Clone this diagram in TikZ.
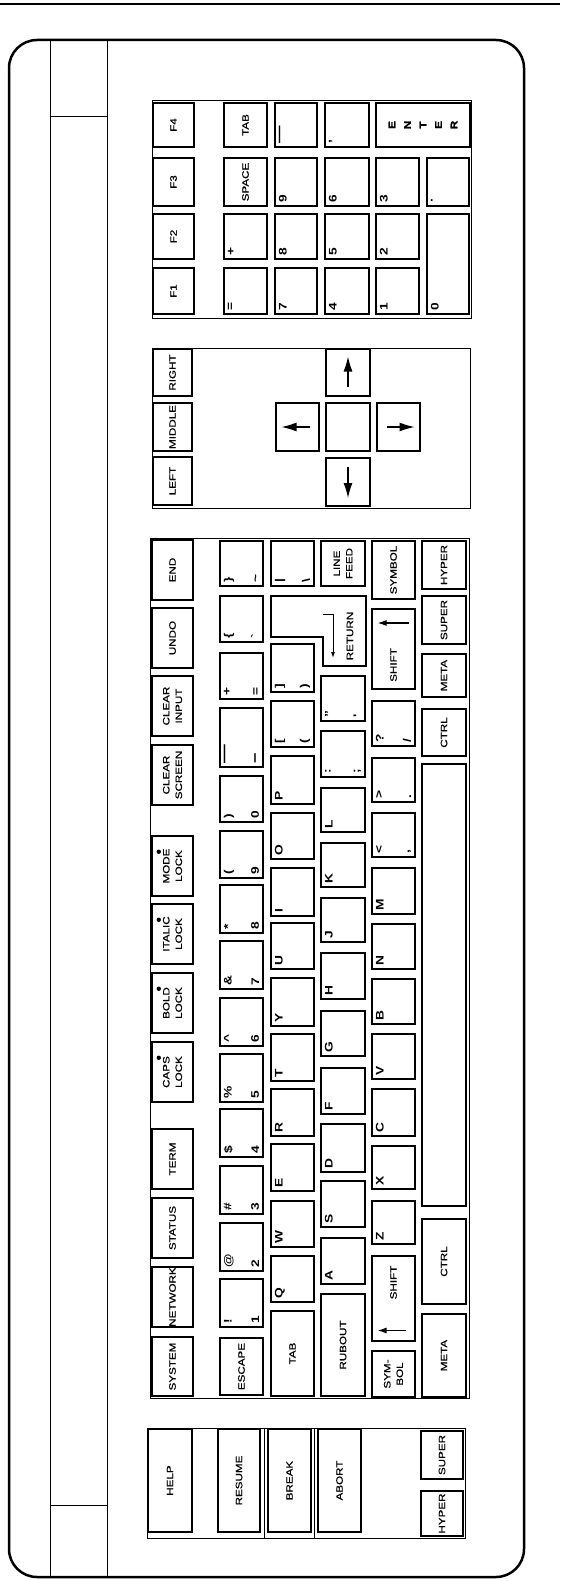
\documentclass[tikz,border=0pt]{standalone}
\usepackage{fontspec}
\newfontfamily\keyfont{Liberation Sans}[FakeStretch=1.25]
\newfontfamily\namefont{Liberation Sans}[FakeStretch=1.25, FakeBold=0.6]
\usetikzlibrary{arrows.meta}

\tikzset{
  key/.style={draw, line width=2.5pt, rotate=90, inner sep=0pt, align=center,
    font=\namefont\fontsize{9.3}{12.5}\selectfont},
  lgd/.style={rotate=90, inner sep=5pt,
    font=\keyfont\bfseries\fontsize{11}{11}\selectfont},
  keytext/.style={rotate=90, inner sep=0pt, align=center,
    font=\namefont\fontsize{9.3}{12.5}\selectfont},
  block/.style={draw, line width=0.9pt},
  outerframe/.style={draw, line width=2.5pt},
  rule/.style={draw, line width=0.9pt},
  bigarrow/.style={line width=1.2pt, -{Latex[length=15pt,width=9pt]}},
  smallarrow/.style={line width=1.3pt, -{Latex[length=9pt,width=6pt]}}
}

% key from (x1,y1) to (x2,y2), picture pixels
\newcommand{\keycap}[6]{%
  \node[key, minimum width={(#5-#3-2)*1pt}, minimum height={(#4-#2-2)*1pt}]
    (#1) at ({(#2+#4)/2},{(#3+#5)/2}) {#6};}
% legends in the upper / lower left corner of a key
\newcommand{\upleg}[2]{\node[lgd, anchor=north west] at (#1.north west) {#2};}
\newcommand{\loleg}[2]{\node[lgd, anchor=south west] at (#1.south west) {#2};}

\begin{document}
\begin{tikzpicture}[x=1pt, y=-1pt]
\useasboundingbox (0,0) rectangle (560,1581);

% case
\draw[line width=1.5pt] (0,4) -- (560,4);
\draw[outerframe, rounded corners=28pt] (9,40) rectangle (524,1577);
\draw[rule] (50,40) -- (50,1577);
\draw[rule] (107,40) -- (107,1577);
\draw[rule] (50,116) -- (107,116);
\draw[rule] (50,1505) -- (107,1505);

% keypad
\draw[block] (152,100) rectangle (471,318);
\keycap{ffour}{152}{102}{195}{148}{F4}
\keycap{fthree}{152}{157}{195}{207}{F3}
\keycap{ftwo}{152}{213}{195}{260}{F2}
\keycap{fone}{152}{267}{195}{315}{F1}
\keycap{padtab}{223}{102}{268}{148}{TAB}
\keycap{padspace}{223}{157}{268}{207}{SPACE}
\keycap{padplus}{223}{213}{268}{260}{}
\keycap{padeq}{223}{267}{268}{315}{}
\keycap{padminus}{274}{102}{318}{148}{}
\keycap{padnine}{274}{157}{318}{207}{}
\keycap{padeight}{274}{213}{318}{260}{}
\keycap{padseven}{274}{267}{318}{315}{}
\keycap{padcomma}{324}{102}{370}{148}{}
\keycap{padsix}{324}{157}{370}{207}{}
\keycap{padfive}{324}{213}{370}{260}{}
\keycap{padfour}{324}{267}{370}{315}{}
\keycap{enter}{375}{102}{471}{148}{}
\keycap{padthree}{375}{157}{420}{207}{}
\keycap{padtwo}{375}{213}{420}{260}{}
\keycap{padone}{375}{267}{420}{315}{}
\keycap{paddot}{426}{157}{470}{207}{}
\keycap{padzero}{426}{213}{470}{315}{}
\node[keytext, font=\namefont\bfseries\fontsize{9.5}{15.5}\selectfont] (entertext) at (enter) {E\\N\\T\\E\\R};
\upleg{padplus}{+}
\upleg{padeq}{=}
\upleg{padminus}{\fontsize{14}{14}\selectfont\textemdash}
\upleg{padnine}{9}
\upleg{padeight}{8}
\upleg{padseven}{7}
\upleg{padcomma}{,}
\upleg{padsix}{6}
\upleg{padfive}{5}
\upleg{padfour}{4}
\upleg{padthree}{3}
\upleg{padtwo}{2}
\upleg{padone}{1}
\upleg{paddot}{.}
\upleg{padzero}{0}

% mouse buttons and cursor keys
\draw[block] (152,348) rectangle (470,508);
\keycap{rightbtn}{152}{348}{193}{397}{RIGHT}
\keycap{middlebtn}{152}{402}{193}{452}{MIDDLE}
\keycap{leftbtn}{152}{456}{193}{506}{LEFT}
\keycap{curup}{325}{348}{371}{397}{}
\keycap{curleft}{275}{402}{320}{452}{}
\keycap{curmid}{325}{402}{371}{452}{}
\keycap{curright}{376}{402}{421}{452}{}
\keycap{curdown}{325}{457}{371}{507}{}
\draw[bigarrow] ([yshift=-14pt]curup.center) -- ([yshift=16pt]curup.center);
\draw[bigarrow] ([xshift=12pt]curleft.center) -- ([xshift=-16pt]curleft.center);
\draw[bigarrow] ([xshift=-12pt]curright.center) -- ([xshift=16pt]curright.center);
\draw[bigarrow] ([yshift=15pt]curdown.center) -- ([yshift=-16pt]curdown.center);

% main keys
\draw[block] (150,538) rectangle (469,1398);
% function row
\keycap{system}{151}{1336}{194}{1397}{SYSTEM}
\keycap{network}{151}{1266}{194}{1328}{NETWORK}
\keycap{status}{151}{1197}{194}{1259}{STATUS}
\keycap{term}{151}{1128}{194}{1190}{TERM}
\keycap{capslock}{151}{1041}{194}{1103}{CAPS\\LOCK}
\keycap{boldlock}{151}{972}{194}{1034}{BOLD\\LOCK}
\keycap{italiclock}{151}{903}{194}{965}{ITALIC\\LOCK}
\keycap{modelock}{151}{835}{194}{897}{MODE\\LOCK}
\keycap{clearscreen}{151}{744}{194}{806}{CLEAR\\SCREEN}
\keycap{clearinput}{151}{675}{194}{737}{CLEAR\\INPUT}
\keycap{undo}{151}{607}{194}{669}{UNDO}
\keycap{endkey}{151}{539}{194}{601}{END}
\fill ([xshift=8pt,yshift=-17pt]capslock.north east) circle (2.2pt);
\fill ([xshift=8pt,yshift=-17pt]boldlock.north east) circle (2.2pt);
\fill ([xshift=8pt,yshift=-17pt]italiclock.north east) circle (2.2pt);
\fill ([xshift=8pt,yshift=-17pt]modelock.north east) circle (2.2pt);

% digit row
\keycap{escape}{219}{1337}{264}{1396}{ESCAPE}
\keycap{keyone}{219}{1278}{264}{1328}{}
\keycap{keytwo}{219}{1222}{264}{1272}{}
\keycap{keythree}{219}{1165}{264}{1215}{}
\keycap{keyfour}{219}{1108}{264}{1158}{}
\keycap{keyfive}{219}{1053}{264}{1103}{}
\keycap{keysix}{219}{997}{264}{1047}{}
\keycap{keyseven}{219}{940}{264}{990}{}
\keycap{keyeight}{219}{884}{264}{934}{}
\keycap{keynine}{219}{830}{264}{879}{}
\keycap{keyzero}{219}{775}{264}{823}{}
\keycap{keyminus}{219}{707}{264}{768}{}
\keycap{keyequal}{219}{652}{264}{700}{}
\keycap{keygrave}{219}{595}{264}{643}{}
\keycap{keytilde}{219}{540}{264}{587}{}
\upleg{keyone}{!} \loleg{keyone}{1}
\upleg{keytwo}{@} \loleg{keytwo}{2}
\upleg{keythree}{\#} \loleg{keythree}{3}
\upleg{keyfour}{\$} \loleg{keyfour}{4}
\upleg{keyfive}{\%} \loleg{keyfive}{5}
\upleg{keysix}{\textasciicircum} \loleg{keysix}{6}
\upleg{keyseven}{\&} \loleg{keyseven}{7}
\upleg{keyeight}{*} \loleg{keyeight}{8}
\upleg{keynine}{(} \loleg{keynine}{9}
\upleg{keyzero}{)} \loleg{keyzero}{0}
\upleg{keyminus}{\fontsize{15}{15}\selectfont\textemdash} \loleg{keyminus}{\fontsize{15}{15}\selectfont\textendash}
\upleg{keyequal}{+} \loleg{keyequal}{=}
\upleg{keygrave}{\{} \loleg{keygrave}{\textasciigrave}
\upleg{keytilde}{\}} \loleg{keytilde}{\textasciitilde}

% Q row
\keycap{tab}{270}{1310}{315}{1397}{TAB}
\keycap{keyq}{270}{1255}{315}{1303}{}
\keycap{keyw}{270}{1200}{315}{1248}{}
\keycap{keye}{270}{1143}{315}{1192}{}
\keycap{keyr}{270}{1088}{315}{1137}{}
\keycap{keyt}{270}{1033}{315}{1082}{}
\keycap{keyy}{270}{977}{315}{1027}{}
\keycap{keyu}{270}{922}{315}{970}{}
\keycap{keyi}{270}{867}{315}{917}{}
\keycap{keyo}{270}{812}{315}{860}{}
\keycap{keyp}{270}{755}{315}{805}{}
\keycap{lbrack}{270}{700}{315}{748}{}
\keycap{rbrack}{270}{643}{315}{693}{}
\keycap{bslash}{270}{540}{315}{587}{}
\upleg{keyq}{Q} \upleg{keyw}{W} \upleg{keye}{E} \upleg{keyr}{R}
\upleg{keyt}{T} \upleg{keyy}{Y} \upleg{keyu}{U} \upleg{keyi}{I}
\upleg{keyo}{O} \upleg{keyp}{P}
\upleg{lbrack}{[} \loleg{lbrack}{(}
\upleg{rbrack}{]} \loleg{rbrack}{)}
\upleg{bslash}{|} \loleg{bslash}{\textbackslash}

% return
\draw[line width=2.5pt, line join=miter] (271,596) -- (366,596) -- (366,666)
  -- (323,666) -- (323,637) -- (271,637) -- cycle;
\node[keytext] (returntext) at (350,636) {RETURN};
\draw[line width=1pt, -{Latex[length=6pt,width=4pt]}] (323,614) -- (333,614) -- (333,658);

% A row
\keycap{rubout}{320}{1293}{366}{1397}{RUBOUT}
\keycap{keya}{320}{1237}{366}{1285}{}
\keycap{keys}{320}{1180}{366}{1228}{}
\keycap{keyd}{320}{1123}{366}{1173}{}
\keycap{keyf}{320}{1067}{366}{1115}{}
\keycap{keyg}{320}{1010}{366}{1057}{}
\keycap{keyh}{320}{952}{366}{1000}{}
\keycap{keyj}{320}{897}{366}{943}{}
\keycap{keyk}{320}{842}{366}{888}{}
\keycap{keyl}{320}{787}{366}{833}{}
\keycap{semicolon}{320}{730}{366}{778}{}
\keycap{quote}{320}{675}{366}{722}{}
\keycap{linefeed}{320}{540}{366}{587}{LINE\\FEED}
\upleg{keya}{A} \upleg{keys}{S} \upleg{keyd}{D} \upleg{keyf}{F}
\upleg{keyg}{G} \upleg{keyh}{H} \upleg{keyj}{J} \upleg{keyk}{K}
\upleg{keyl}{L}
\upleg{semicolon}{:} \loleg{semicolon}{;}
\upleg{quote}{\textquotedblright} \loleg{quote}{'}

% Z row
\keycap{symbolleft}{371}{1350}{416}{1398}{SYM-\\BOL}
\keycap{lshift}{371}{1255}{416}{1342}{}
\keycap{keyz}{371}{1200}{416}{1245}{}
\keycap{keyx}{371}{1145}{416}{1190}{}
\keycap{keyc}{371}{1088}{416}{1137}{}
\keycap{keyv}{371}{1033}{416}{1080}{}
\keycap{keyb}{371}{978}{416}{1025}{}
\keycap{keyn}{371}{923}{416}{970}{}
\keycap{keym}{371}{867}{416}{915}{}
\keycap{comma}{371}{812}{416}{858}{}
\keycap{period}{371}{757}{416}{803}{}
\keycap{slash}{371}{700}{416}{747}{}
\keycap{rshift}{371}{608}{416}{690}{}
\keycap{symbolright}{371}{540}{416}{600}{SYMBOL}
\upleg{keyz}{Z} \upleg{keyx}{X} \upleg{keyc}{C} \upleg{keyv}{V}
\upleg{keyb}{B} \upleg{keyn}{N} \upleg{keym}{M}
\upleg{comma}{<} \loleg{comma}{,}
\upleg{period}{>} \loleg{period}{.}
\upleg{slash}{?} \loleg{slash}{/}
\node[keytext] (lshifttext) at ([yshift=16pt]lshift.center) {SHIFT};
\draw[smallarrow] ([xshift=12pt,yshift=-32pt]lshift.center) -- ([xshift=-16pt,yshift=-32pt]lshift.center);
\node[keytext] (rshifttext) at ([yshift=-16pt]rshift.center) {SHIFT};
\draw[smallarrow] ([xshift=15pt,yshift=26pt]rshift.center) -- ([xshift=-16pt,yshift=26pt]rshift.center);

% bottom row
\keycap{metaleft}{421}{1313}{467}{1398}{META}
\keycap{ctrlleft}{421}{1218}{467}{1305}{CTRL}
\keycap{spacebar}{421}{763}{467}{1207}{}
\keycap{ctrlright}{421}{708}{467}{757}{CTRL}
\keycap{metaright}{421}{653}{467}{698}{META}
\keycap{superright}{421}{595}{467}{645}{SUPER}
\keycap{hyperright}{421}{540}{467}{590}{HYPER}

% left keys
\draw[block] (147,1428) rectangle (465,1538);
\draw[rule] (264,1428) -- (264,1538);
\draw[rule] (314,1428) -- (314,1538);
\keycap{help}{147}{1428}{193}{1533}{HELP}
\keycap{resume}{217}{1428}{261}{1533}{RESUME}
\keycap{break}{267}{1428}{312}{1533}{BREAK}
\keycap{abort}{317}{1428}{362}{1533}{ABORT}
\keycap{superleft}{420}{1430}{464}{1480}{SUPER}
\keycap{hyperleft}{420}{1490}{464}{1537}{HYPER}

\end{tikzpicture}
\end{document}
